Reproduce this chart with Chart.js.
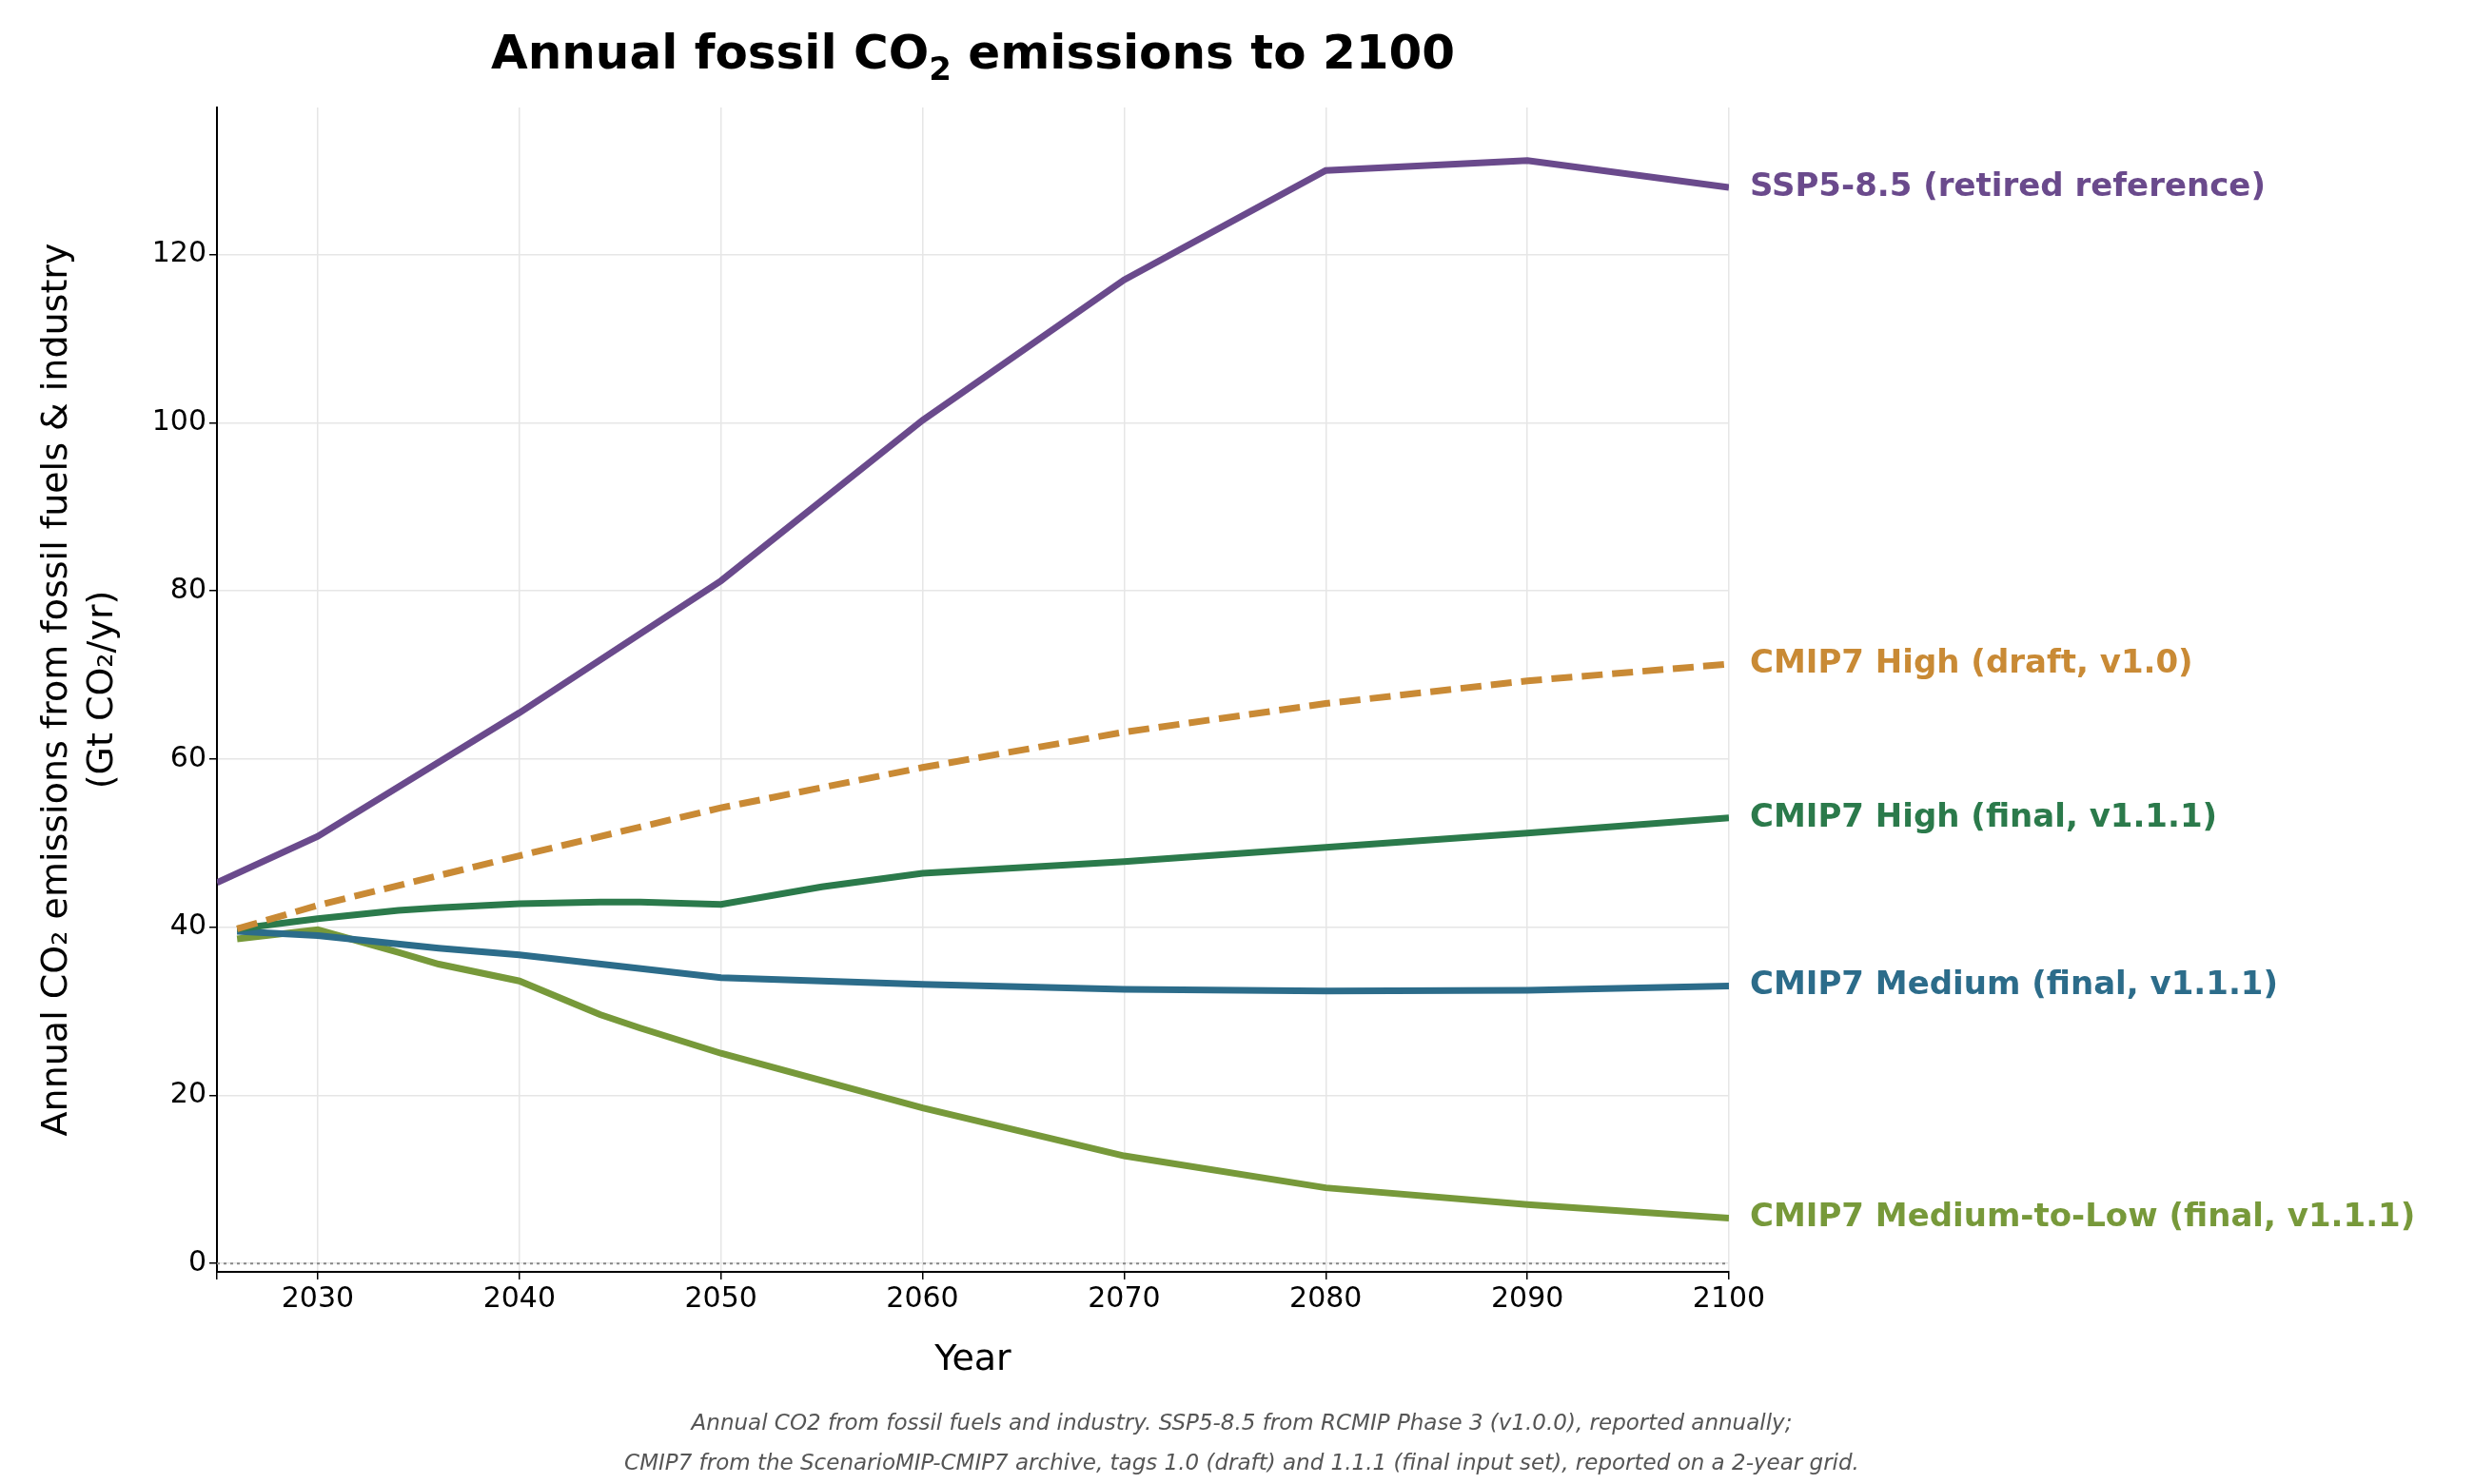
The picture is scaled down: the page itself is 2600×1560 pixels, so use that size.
<!DOCTYPE html>
<html><head><meta charset="utf-8">
<script src="https://cdn.jsdelivr.net/npm/chart.js@4/dist/chart.umd.min.js"></script>
<style>html,body{margin:0;padding:0;background:#fff}#w{width:2600px;height:1560px}</style>
</head><body><div id="w"><canvas id="c"></canvas></div>
<script>
const sspYears=[2025,2030,2040,2050,2060,2070,2080,2090,2100];
const sspVals=[45.3,50.8,65.5,81.2,100.3,117,130,131.2,128];
const highDraftYears=[2026,2030,2040,2050,2060,2070,2080,2090,2100];
const highDraftVals=[39.8,42.6,48.5,54.2,59,63.2,66.6,69.3,71.3];
const highYears=[2026,2030,2034,2036,2040,2044,2046,2050,2055,2060,2070,2080,2090,2100];
const highVals=[39.8,41,42,42.3,42.8,43,43,42.7,44.8,46.4,47.8,49.5,51.2,53];
const medYears=[2026,2030,2036,2040,2050,2060,2070,2080,2090,2100];
const medVals=[39.5,39,37.5,36.7,34,33.2,32.6,32.4,32.5,33];
const mlYears=[2026,2030,2034,2036,2040,2044,2046,2050,2060,2070,2080,2090,2100];
const mlVals=[38.6,39.7,37,35.6,33.6,29.6,28,25,18.5,12.8,9,7,5.4];
const labels=["SSP5-8.5 (retired reference)","CMIP7 High (draft, v1.0)","CMIP7 High (final, v1.1.1)","CMIP7 Medium (final, v1.1.1)","CMIP7 Medium-to-Low (final, v1.1.1)"];
const colors=["#6a4a8c","#c98a35","#2b7a4b","#2c6c8a","#77993a"];
const xs=[sspYears,highDraftYears,highYears,medYears,mlYears];
const ys=[sspVals,highDraftVals,highVals,medVals,mlVals];
const yTicks=[0,20,40,60,80,100,120];
const footnote=["Annual CO2 from fossil fuels and industry. SSP5-8.5 from RCMIP Phase 3 (v1.0.0), reported annually;","CMIP7 from the ScenarioMIP-CMIP7 archive, tags 1.0 (draft) and 1.1.1 (final input set), reported on a 2-year grid."];
const F="'DejaVu Sans', sans-serif";
const datasets=labels.map((l,i)=>({label:l,data:xs[i].map((x,j)=>({x:x,y:ys[i][j]})),borderColor:colors[i],borderWidth:7,pointRadius:0,tension:0,fill:false,borderDash:i===1?[22,10]:[]}));
const extra={id:'extra',
beforeDatasetsDraw(c){const {ctx,chartArea:a,scales:{y}}=c;const yy=y.getPixelForValue(0);ctx.save();ctx.strokeStyle='#888';ctx.lineWidth=2;ctx.setLineDash([3,4]);ctx.beginPath();ctx.moveTo(a.left,yy);ctx.lineTo(a.right,yy);ctx.stroke();ctx.restore();},
afterDraw(c){const {ctx,chartArea:a,scales:{x,y}}=c;ctx.save();
ctx.font="bold 34px "+F;ctx.textBaseline='middle';
labels.forEach((l,i)=>{const n=ys[i].length;ctx.fillStyle=colors[i];ctx.fillText(l,x.getPixelForValue(xs[i][n-1])+22,y.getPixelForValue(ys[i][n-1]));});
// title
ctx.fillStyle='#000';ctx.font="bold 50px "+F;ctx.textAlign='left';ctx.textBaseline='alphabetic';
const cx=(a.left+a.right)/2;const p1="Annual fossil CO",p3=" emissions to 2100";
ctx.font="bold 50px "+F;const w1=ctx.measureText(p1).width,w3=ctx.measureText(p3).width;ctx.font="bold 34px "+F;const w2=ctx.measureText("2").width;
let sx=cx-(w1+w2+w3)/2;ctx.font="bold 50px "+F;ctx.fillText(p1,sx,72);ctx.font="bold 34px "+F;ctx.fillText("2",sx+w1,84);ctx.font="bold 50px "+F;ctx.fillText(p3,sx+w1+w2,72);
// y title
ctx.save();ctx.translate(70,(a.top+a.bottom)/2);ctx.rotate(-Math.PI/2);ctx.textAlign='center';ctx.font="38px "+F;
ctx.fillText("Annual CO₂ emissions from fossil fuels & industry",0,0);ctx.fillText("(Gt CO₂/yr)",0,48);ctx.restore();
// footnote
ctx.fillStyle='#555';ctx.font="italic 23px "+F;ctx.textAlign='center';
ctx.fillText(footnote[0],1305,1503);ctx.fillText(footnote[1],1305,1545);
ctx.restore();}};
new Chart(document.getElementById('c'),{type:'line',data:{datasets},plugins:[extra],
options:{responsive:true,maintainAspectRatio:false,animation:false,
layout:{padding:{left:30,right:783,top:113,bottom:103}},
plugins:{legend:{display:false},title:{display:false},tooltip:{enabled:false}},
scales:{
x:{type:'linear',min:2025,max:2100,ticks:{stepSize:10,color:'#000',font:{size:30,family:F},callback:v=>v%10===0&&v>2025?String(v):''},
grid:{color:'#e6e6e6',lineWidth:1.5,drawTicks:true,tickColor:'#000',tickLength:8},border:{color:'#000',width:2},
title:{display:true,text:'Year',color:'#000',font:{size:38,family:F}},afterFit(s){s.height=120;}},
y:{min:-1,max:137.5,afterBuildTicks(s){s.ticks=yTicks.map(v=>({value:v}));},ticks:{color:'#000',font:{size:30,family:F}},
grid:{color:'#e6e6e6',lineWidth:1.5,tickColor:'#000',tickLength:8},border:{color:'#000',width:2},afterFit(s){s.width=198;}}
}}});
</script></body></html>
